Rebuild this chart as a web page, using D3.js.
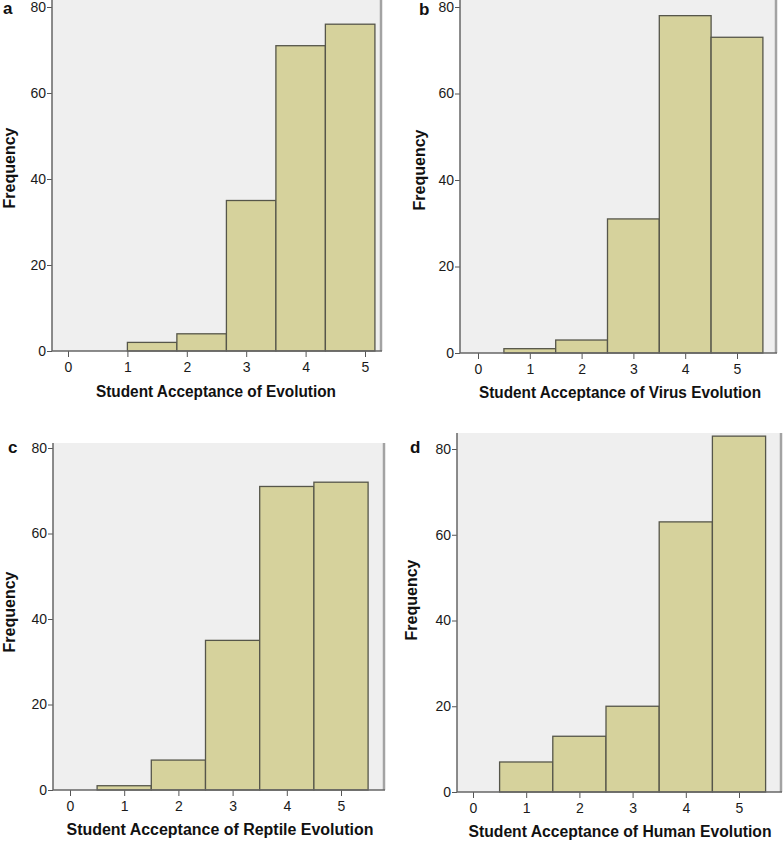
<!DOCTYPE html>
<html>
<head>
<meta charset="utf-8">
<script src="https://cdn.jsdelivr.net/npm/d3@7"></script>
<style>
  body { margin: 0; background: #fff; }
  svg { display: block; font-family: "Liberation Sans", Arial, sans-serif; }
</style>
</head>
<body>
<div id="root"></div>
<script>

// values
const panel_letters = ["a", "b", "c", "d"]
const x_titles = [
  "Student Acceptance of Evolution",
  "Student Acceptance of Virus Evolution",
  "Student Acceptance of Reptile Evolution",
  "Student Acceptance of Human Evolution"
]
const y_title = "Frequency"

const bin_edges_a = [1, 1.833, 2.667, 3.5, 4.333, 5.167]
const bin_edges_b = [0.5, 1.5, 2.5, 3.5, 4.5, 5.5]
const bin_edges_c = [0.5, 1.5, 2.5, 3.5, 4.5, 5.5]
const bin_edges_d = [0.5, 1.5, 2.5, 3.5, 4.5, 5.5]

const counts_a = [2, 4, 35, 71, 76]
const counts_b = [1, 3, 31, 78, 73]
const counts_c = [1, 7, 35, 71, 72]
const counts_d = [7, 13, 20, 63, 83]

const x_ticks = [0, 1, 2, 3, 4, 5]
const y_ticks = [0, 20, 40, 60, 80]

const all_edges = [bin_edges_a, bin_edges_b, bin_edges_c, bin_edges_d]
const all_counts = [counts_a, counts_b, counts_c, counts_d]

// pixel layout of each panel
const layouts = [
  {axis_x: 52,  x0: 68,  x5: 365, y0: 351, y80: 7,   top: 0,   right: 380,
   letter: [3, 14],   y_title: [15, 168],  x_title: [216, 397], x_title_w: 240},
  {axis_x: 460, x0: 478, x5: 737, y0: 353, y80: 7,   top: 0,   right: 775,
   letter: [419, 15], y_title: [425, 170], x_title: [620, 398], x_title_w: 282},
  {axis_x: 53,  x0: 70,  x5: 341, y0: 790, y80: 448, top: 443, right: 383,
   letter: [8, 453],  y_title: [15, 612],  x_title: [220, 835], x_title_w: 307},
  {axis_x: 457, x0: 473, x5: 739, y0: 792, y80: 449, top: 433, right: 780,
   letter: [410, 453], y_title: [417, 600], x_title: [620, 837], x_title_w: 303}
]

const svg = d3.select("#root").append("svg")
  .attr("width", 784)
  .attr("height", 842)

function draw_panel(i){
  const lay = layouts[i]
  const edges = all_edges[i]
  const counts = all_counts[i]

  const bins = counts.map((c, k) => ({x0: edges[k], x1: edges[k + 1], count: c}))

  const x_scale = d3.scaleLinear().domain([0, 5]).range([lay.x0, lay.x5])
  const y_scale = d3.scaleLinear().domain([0, 80]).range([lay.y0, lay.y80])

  const g = svg.append("g")

  // plot background
  g.append("rect")
    .attr("x", lay.axis_x)
    .attr("y", lay.top)
    .attr("width", lay.right - lay.axis_x)
    .attr("height", lay.y0 - lay.top)
    .attr("fill", "#efefef")

  // right frame
  g.append("line")
    .attr("x1", lay.right + 1).attr("x2", lay.right + 1)
    .attr("y1", lay.top).attr("y2", lay.y0)
    .attr("stroke", "#a3a3a3")
    .attr("stroke-width", 2.5)

  g.append("g").selectAll("rect").data(bins).enter()
    .append("rect")
    .attr("x", d => x_scale(d.x0))
    .attr("y", d => y_scale(d.count))
    .attr("width", d => x_scale(d.x1) - x_scale(d.x0))
    .attr("height", d => lay.y0 - y_scale(d.count))
    .attr("fill", "#d6d29c")
    .attr("stroke", "#56564a")
    .attr("stroke-width", 1.3)

  // axes
  const x_axis = g.append("g")
    .attr("transform", "translate(0," + lay.y0 + ")")
    .call(d3.axisBottom(x_scale).tickValues(x_ticks).tickFormat(d3.format("d"))
      .tickSize(6).tickPadding(5).tickSizeOuter(0))
  x_axis.select(".domain").remove()

  const y_axis = g.append("g")
    .attr("transform", "translate(" + lay.axis_x + ",0)")
    .call(d3.axisLeft(y_scale).tickValues(y_ticks).tickFormat(d3.format("d"))
      .tickSize(5).tickPadding(1).tickSizeOuter(0))
  y_axis.select(".domain").remove()

  for (const ax of [x_axis, y_axis]) {
    ax.selectAll("line").attr("stroke", "#555")
    ax.selectAll("text")
      .attr("fill", "#1a1a1a")
      .style("font-size", "14px")
  }

  g.append("line")
    .attr("x1", lay.axis_x).attr("x2", lay.axis_x)
    .attr("y1", lay.top).attr("y2", lay.y0)
    .attr("stroke", "#666").attr("stroke-width", 1.5)
  g.append("line")
    .attr("x1", lay.axis_x).attr("x2", lay.right + 2)
    .attr("y1", lay.y0).attr("y2", lay.y0)
    .attr("stroke", "#666").attr("stroke-width", 1.5)

  // titles
  g.append("text")
    .attr("x", lay.x_title[0])
    .attr("y", lay.x_title[1])
    .attr("text-anchor", "middle")
    .attr("textLength", lay.x_title_w)
    .attr("lengthAdjust", "spacingAndGlyphs")
    .style("font-size", "16px")
    .style("font-weight", "bold")
    .attr("fill", "#111")
    .text(x_titles[i])

  g.append("text")
    .attr("transform", "translate(" + lay.y_title[0] + "," + lay.y_title[1] + ") rotate(-90)")
    .attr("text-anchor", "middle")
    .style("font-size", "16px")
    .style("font-weight", "bold")
    .attr("fill", "#111")
    .text(y_title)

  g.append("text")
    .attr("x", lay.letter[0])
    .attr("y", lay.letter[1])
    .style("font-size", "17px")
    .style("font-weight", "bold")
    .attr("fill", "#111")
    .text(panel_letters[i])
}

for (let i = 0; i < 4; i++) {
  draw_panel(i)
}

</script>
</body>
</html>
